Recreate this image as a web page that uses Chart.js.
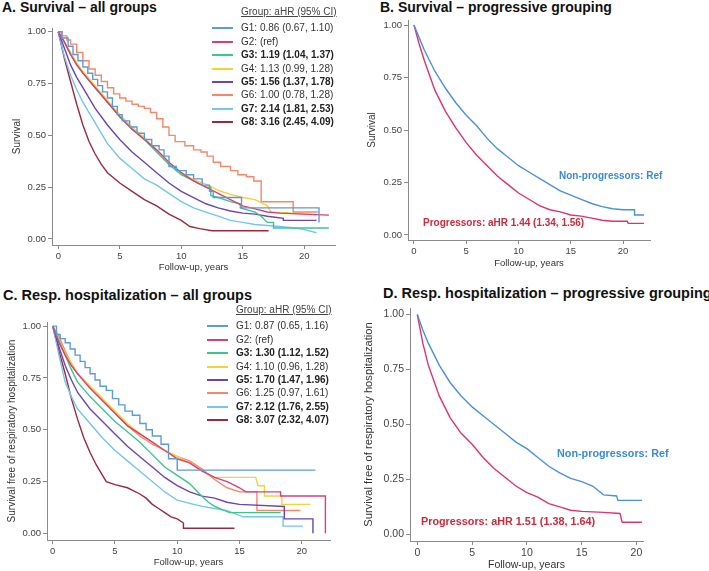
<!DOCTYPE html>
<html>
<head>
<meta charset="utf-8">
<script src="https://cdn.jsdelivr.net/npm/chart.js@4/dist/chart.umd.min.js"></script>
<style>
  body { margin: 0; width: 709px; height: 571px; position: relative; overflow: hidden; background: #fff;
         font-family: "Liberation Sans", Arial, sans-serif; }
  canvas { position: absolute; }
  .title { position: absolute; font-weight: 700; font-size: 14px; color: #111; white-space: nowrap; line-height: 16px; }
  .legend { position: absolute; font-size: 10px; color: #333; line-height: 13.4px; white-space: nowrap; }
  .legend .head { text-decoration: underline; color: #444; margin-bottom: 3px; padding-left: 29px; }
  .legend .row { position: relative; padding-left: 29px; }
  .legend .row span.ln { position: absolute; display: block; left: 0; top: 6px; width: 21px; height: 2px; }
  .legend .row.b { font-weight: 700; color: #222; }
  .note { position: absolute; font-weight: 700; white-space: nowrap; line-height: 14px; }
</style>
</head>
<body>
<div class="title" style="left:2px;top:-1px">A. Survival – all groups</div>
<div class="title" style="left:380px;top:-1px">B. Survival – progressive grouping</div>
<div class="title" style="left:3px;top:287px;font-size:14.5px">C. Resp. hospitalization – all groups</div>
<div class="title" style="left:383px;top:285px;font-size:14.5px">D. Resp. hospitalization – progressive grouping</div>

<canvas id="chartA" width="345" height="280" style="left:0;top:0"></canvas>
<canvas id="chartB" width="354" height="275" style="left:355px;top:0"></canvas>
<canvas id="chartC" width="340" height="281" style="left:0;top:290px"></canvas>
<canvas id="chartD" width="354" height="281" style="left:355px;top:290px"></canvas>

<div class="legend" id="legendA" style="left:212px;top:5px"></div>
<div class="legend" id="legendC" style="left:207px;top:303px"></div>

<div class="note" style="left:559px;top:169px;font-size:10px;color:#3a8ad6">Non-progressors: Ref</div>
<div class="note" style="left:423px;top:216px;font-size:10px;color:#cc2b3b">Progressors: aHR 1.44 (1.34, 1.56)</div>
<div class="note" style="left:557px;top:446px;font-size:10.8px;color:#3a8ad6">Non-progressors: Ref</div>
<div class="note" style="left:421px;top:514px;font-size:10.8px;color:#cc2b3b">Progressors: aHR 1.51 (1.38, 1.64)</div>

<script>
// axes
const xTicks = [0, 5, 10, 15, 20];
const yTicks = [0, 0.25, 0.5, 0.75, 1];

// groups
const groupColors = ['#5b9bdc', '#dc3f74', '#3cc68a', '#f3d338', '#6b45b0', '#f5876a', '#72c6f0', '#9c2a3c'];
const legendHead = 'Group: aHR (95% CI)';
const legendA = ['G1: 0.86 (0.67, 1.10)', 'G2: (ref)', 'G3: 1.19 (1.04, 1.37)', 'G4: 1.13 (0.99, 1.28)',
                 'G5: 1.56 (1.37, 1.78)', 'G6: 1.00 (0.78, 1.28)', 'G7: 2.14 (1.81, 2.53)', 'G8: 3.16 (2.45, 4.09)'];
const legendC = ['G1: 0.87 (0.65, 1.16)', 'G2: (ref)', 'G3: 1.30 (1.12, 1.52)', 'G4: 1.10 (0.96, 1.28)',
                 'G5: 1.70 (1.47, 1.96)', 'G6: 1.25 (0.97, 1.61)', 'G7: 2.12 (1.76, 2.55)', 'G8: 3.07 (2.32, 4.07)'];
const boldRows = [false, false, true, false, true, false, true, true];
const progColors = ['#4a90dc', '#e0336b'];

// A. survival, all groups  [years, survival]
const survA_G1 = [[0,1],[0.3,0.97],[0.8,0.93],[1.2,0.89],[1.6,0.86],[2,0.83],[2.4,0.80],[2.8,0.77],[3.2,0.74],[3.6,0.71],[4,0.68],[4.4,0.64],[4.8,0.60],[5.2,0.57],[5.8,0.54],[6.4,0.51],[7,0.48],[7.6,0.45],[8.2,0.43],[8.6,0.40],[9,0.35],[9.6,0.33],[10.4,0.31],[11,0.29],[11.7,0.26],[12.3,0.23],[12.6,0.20],[14.9,0.15],[21.2,0.08]];
const survA_G2 = [[0,1],[0.5,0.95],[1,0.89],[1.5,0.84],[2,0.80],[3,0.73],[4,0.66],[5,0.59],[6,0.53],[7,0.48],[8,0.43],[9,0.37],[10,0.32],[11,0.28],[12,0.25],[13,0.22],[14,0.19],[15,0.16],[16,0.145],[17,0.13],[18,0.125],[20,0.12],[22,0.115]];
const survA_G3 = [[0,1],[0.5,0.95],[1,0.89],[1.5,0.84],[2,0.80],[3,0.73],[4,0.66],[5,0.59],[6,0.53],[7,0.48],[8,0.42],[9,0.36],[10,0.31],[11,0.28],[12,0.25],[12.4,0.25],[12.4,0.21],[13,0.20],[14,0.18],[14.8,0.17],[14.8,0.15],[16,0.13],[16.5,0.11],[17,0.08],[17.5,0.08],[17.5,0.053],[22,0.053]];
const survA_G4 = [[0,1],[0.5,0.95],[1,0.90],[1.5,0.85],[2,0.81],[3,0.74],[4,0.67],[5,0.60],[6,0.54],[7,0.49],[8,0.43],[9,0.37],[10,0.32],[11,0.285],[12,0.265],[13,0.235],[14,0.215],[15,0.20],[16,0.19],[17,0.16],[17.3,0.13],[19,0.125],[21,0.115]];
const survA_G5 = [[0,1],[0.5,0.92],[1,0.84],[1.5,0.78],[2,0.73],[3,0.63],[4,0.55],[5,0.48],[6,0.42],[7,0.37],[8,0.32],[9,0.27],[10,0.23],[11,0.20],[12,0.17],[13,0.15],[14,0.135],[15,0.125],[16,0.12],[17,0.11],[18.3,0.10],[18.3,0.09],[21,0.09]];
const survA_G6 = [[0,1],[0.3,0.98],[0.7,0.96],[1,0.94],[1.5,0.90],[2,0.86],[2.5,0.82],[3,0.79],[3.5,0.76],[4,0.73],[4.5,0.70],[5,0.68],[5.5,0.665],[6,0.65],[6.5,0.64],[7,0.63],[7.5,0.61],[8,0.58],[8.5,0.54],[9,0.50],[9.5,0.47],[10.3,0.45],[11,0.43],[11.6,0.42],[12.1,0.40],[12.6,0.37],[13.2,0.35],[14,0.33],[14.6,0.31],[15.3,0.30],[15.9,0.28],[16.5,0.18],[19.1,0.13],[21.1,0.13]];
const survA_G7 = [[0,1],[0.5,0.88],[1,0.79],[1.5,0.72],[2,0.66],[3,0.56],[3.5,0.51],[4,0.46],[5,0.39],[6,0.34],[7,0.29],[8,0.26],[9,0.22],[10,0.18],[11,0.15],[12,0.13],[13,0.11],[14,0.09],[15,0.08],[16,0.07],[17,0.065],[18,0.06],[19,0.055],[20,0.045],[21,0.03]];
const survA_G8 = [[0,1],[0.5,0.87],[1,0.76],[1.5,0.65],[2,0.55],[2.5,0.47],[3,0.41],[3.5,0.36],[4,0.32],[5,0.27],[6,0.23],[7,0.19],[8,0.16],[9,0.12],[10,0.09],[10.7,0.06],[11.5,0.05],[12.5,0.04],[17.1,0.04]];

// B. survival, progressive grouping
const survB_non = [[0,1],[0.5,0.94],[1,0.88],[1.5,0.83],[2,0.78],[3,0.70],[4,0.63],[5,0.57],[6,0.52],[7,0.46],[8,0.41],[9,0.37],[10,0.33],[11,0.30],[12,0.27],[13,0.24],[14,0.21],[15,0.19],[16,0.17],[17,0.15],[18,0.135],[19,0.125],[20,0.12],[21.1,0.12],[21.1,0.095],[22,0.095]];
const survB_prog = [[0,1],[0.5,0.91],[1,0.83],[1.5,0.76],[2,0.69],[3,0.59],[4,0.51],[5,0.44],[6,0.38],[7,0.33],[8,0.28],[9,0.24],[10,0.20],[11,0.17],[12,0.14],[13,0.12],[14,0.11],[15,0.095],[16,0.09],[17,0.08],[18,0.07],[19,0.065],[20.4,0.065],[20.5,0.055],[22,0.055]];

// C. free of respiratory hospitalization, all groups
const hospC_G1 = [[0,1],[0.3,0.96],[0.6,0.94],[1,0.92],[1.4,0.89],[1.8,0.86],[2.2,0.83],[2.6,0.80],[3,0.77],[3.4,0.74],[3.8,0.71],[4.3,0.69],[4.8,0.65],[5.3,0.62],[5.8,0.59],[6.4,0.57],[7,0.53],[7.5,0.50],[8,0.47],[8.7,0.43],[9.3,0.36],[10,0.305],[21.1,0.305]];
const hospC_G2 = [[0,1],[0.5,0.92],[1,0.86],[1.5,0.81],[2,0.77],[3,0.70],[4,0.64],[5,0.58],[6,0.52],[7,0.48],[8,0.44],[9,0.40],[10,0.36],[11,0.34],[12,0.30],[13,0.27],[14,0.25],[15,0.22],[15.5,0.20],[18.3,0.20],[18.3,0.18],[21.9,0.18],[21.9,0]];
const hospC_G3 = [[0,1],[0.5,0.93],[1,0.86],[1.5,0.79],[2,0.73],[3,0.66],[4,0.60],[5,0.54],[6,0.49],[7,0.44],[8,0.38],[9,0.32],[10,0.28],[11,0.24],[11.8,0.19],[12.5,0.15],[13,0.13],[14.2,0.10],[18.3,0.10]];
const hospC_G4 = [[0,1],[0.5,0.93],[1,0.87],[1.5,0.82],[2,0.77],[3,0.71],[4,0.65],[5,0.59],[6,0.53],[7,0.48],[8,0.44],[9,0.40],[10,0.37],[11,0.34],[12,0.30],[13,0.27],[16.3,0.27],[16.5,0.23],[17,0.23],[17,0.18],[18.4,0.18],[18.4,0.14],[20.7,0.14]];
const hospC_G5 = [[0,1],[0.5,0.9],[1,0.81],[1.5,0.74],[2,0.68],[3,0.60],[4,0.54],[5,0.48],[6,0.42],[7,0.37],[8,0.32],[9,0.27],[10,0.23],[11,0.20],[12,0.18],[13,0.17],[14,0.15],[15,0.14],[18.6,0.13],[18.6,0.07],[20.9,0.07],[20.9,0]];
const hospC_G6 = [[0,1],[0.5,0.95],[1,0.88],[1.5,0.82],[2,0.77],[3,0.71],[4,0.65],[5,0.58],[6,0.52],[7,0.47],[8,0.43],[9,0.40],[10,0.37],[11,0.35],[12,0.31],[13,0.26],[14,0.22],[15,0.20],[16.4,0.20],[16.4,0.11],[19.9,0.11]];
const hospC_G7 = [[0,1],[0.5,0.86],[1,0.73],[1.5,0.66],[2,0.60],[3,0.53],[4,0.46],[5,0.40],[6,0.35],[7,0.30],[8,0.25],[9,0.20],[10,0.16],[11,0.145],[12,0.13],[13,0.12],[14,0.11],[15.3,0.08],[18.5,0.08],[18.5,0.035],[20.1,0.035]];
const hospC_G8 = [[0,1],[0.5,0.88],[1,0.77],[1.5,0.65],[2,0.55],[2.5,0.46],[3,0.39],[3.5,0.33],[4,0.28],[4.3,0.25],[5,0.235],[6,0.22],[7,0.19],[7.5,0.17],[8,0.14],[8.5,0.12],[9,0.10],[9.5,0.08],[10,0.07],[10.5,0.05],[10.5,0.025],[14.6,0.025]];

// D. free of respiratory hospitalization, progressive grouping
const hospD_non = [[0,1],[0.5,0.93],[1,0.87],[1.5,0.82],[2,0.77],[3,0.69],[4,0.63],[5,0.58],[6,0.54],[7,0.50],[8,0.46],[9,0.42],[10,0.39],[11,0.35],[12,0.31],[13,0.28],[14,0.255],[15,0.24],[16,0.22],[17,0.18],[18.2,0.175],[18.3,0.155],[20.5,0.155]];
const hospD_prog = [[0,1],[0.5,0.87],[1,0.77],[1.5,0.70],[2,0.63],[3,0.53],[4,0.46],[5,0.41],[6,0.35],[7,0.30],[8,0.26],[9,0.22],[10,0.19],[11,0.17],[12,0.14],[13,0.125],[14,0.11],[15,0.105],[17,0.10],[18.5,0.095],[18.7,0.055],[20.5,0.055]];

// curves drawn as KM staircases (small groups)
const steppedCurves = [survA_G1, survA_G6, hospC_G1];

function makeChart(id, curves, colors, cfg) {
  const fam = '"Liberation Sans", Arial, sans-serif';
  const datasets = curves.map((c, i) => ({
    data: c.map(p => ({ x: p[0], y: p[1] })),
    borderColor: colors[i],
    borderWidth: 1.4,
    pointRadius: 0,
    fill: false,
    tension: 0,
    stepped: steppedCurves.includes(c) ? 'before' : false
  }));
  const axisGrid = { drawOnChartArea: false, drawTicks: true, tickLength: 4, color: '#8a8a8a' };
  return new Chart(document.getElementById(id), {
    type: 'line',
    data: { datasets },
    options: {
      responsive: false,
      animation: false,
      layout: { padding: { left: 0, top: cfg.padTop, right: cfg.padRight, bottom: 0 } },
      plugins: { legend: { display: false }, tooltip: { enabled: false } },
      scales: {
        x: {
          type: 'linear', min: cfg.xMin, max: cfg.xMax,
          afterBuildTicks: ax => { ax.ticks = xTicks.map(v => ({ value: v })); },
          afterFit: ax => { ax.height = cfg.xHeight; },
          ticks: { font: { family: fam, size: cfg.font }, color: '#444', padding: 2, maxRotation: 0 },
          grid: axisGrid,
          border: { color: '#8a8a8a' },
          title: { display: true, text: 'Follow-up, years', color: '#333',
                   font: { family: fam, size: cfg.font }, padding: { top: 0, bottom: cfg.xTitlePad } }
        },
        y: {
          type: 'linear', min: cfg.yMin, max: cfg.yMax,
          afterBuildTicks: ax => { ax.ticks = yTicks.map(v => ({ value: v })); },
          afterFit: ax => { ax.width = cfg.yWidth; },
          ticks: { font: { family: fam, size: cfg.font }, color: '#444', padding: 2, callback: v => v.toFixed(2) },
          grid: axisGrid,
          border: { color: '#8a8a8a' },
          title: { display: true, text: cfg.yTitle, color: '#333',
                   font: { family: fam, size: cfg.yFont }, padding: { top: cfg.yTitlePad, bottom: 0 } }
        }
      }
    }
  });
}

function buildLegend(id, labels) {
  const el = document.getElementById(id);
  let html = '<div class="head">' + legendHead + '</div>';
  labels.forEach((t, i) => {
    html += '<div class="row' + (boldRows[i] ? ' b' : '') + '"><span class="ln" style="background:' + groupColors[i] + '"></span>' + t + '</div>';
  });
  el.innerHTML = html;
}

const hospTitle = 'Survival free of respiratory hospitalization';

makeChart('chartA', [survA_G1, survA_G2, survA_G3, survA_G4, survA_G5, survA_G6, survA_G7, survA_G8], groupColors,
  { xMin: -0.51, xMax: 22.5, yMin: -0.029, yMax: 1.018, padTop: 28, padRight: 10, xHeight: 35, yWidth: 52,
    font: 9.5, yFont: 10, xTitlePad: 7, yTitle: 'Survival', yTitlePad: 11 });
makeChart('chartB', [survB_non, survB_prog], progColors,
  { xMin: -0.57, xMax: 22.58, yMin: -0.024, yMax: 1.024, padTop: 20, padRight: 59, xHeight: 35, yWidth: 53,
    font: 9.5, yFont: 10, xTitlePad: 6, yTitle: 'Survival', yTitlePad: 11 });
makeChart('chartC', [hospC_G1, hospC_G2, hospC_G3, hospC_G4, hospC_G5, hospC_G6, hospC_G7, hospC_G8], groupColors,
  { xMin: -0.46, xMax: 22.27, yMin: -0.032, yMax: 1.02, padTop: 32, padRight: 10, xHeight: 31, yWidth: 47,
    font: 9.5, yFont: 10, xTitlePad: 3, yTitle: hospTitle, yTitlePad: 6 });
makeChart('chartD', [hospD_non, hospD_prog], progColors,
  { xMin: -0.67, xMax: 20.6, yMin: -0.03, yMax: 1.03, padTop: 18, padRight: 66, xHeight: 30, yWidth: 55,
    font: 10.5, yFont: 11.2, xTitlePad: 0, yTitle: hospTitle, yTitlePad: 7 });

buildLegend('legendA', legendA);
buildLegend('legendC', legendC);
</script>
</body>
</html>
